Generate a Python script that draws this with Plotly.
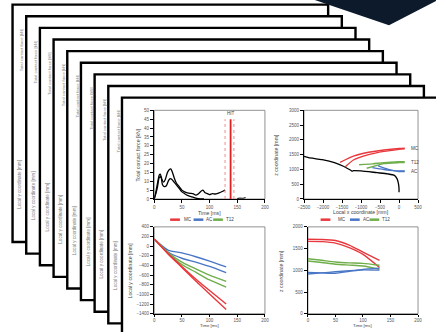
import plotly.graph_objects as go

W, H = 436, 332
def PX(x): return x / W
def PY(y): return 1 - y / H

# ---------------- data ----------------
# panel 1: total contact force vs time
force_t_a = [0, 3, 6, 9, 11, 14, 17, 20, 24, 27, 30, 33, 36, 40, 45, 50, 55, 60, 65, 70, 75, 80, 85, 88, 92, 96, 100, 105, 110, 115, 120, 125, 128]
force_v_a = [0, 4, 9, 13.5, 14, 11, 9.5, 11, 15, 16.5, 17, 15, 12, 9, 7, 5, 4, 3.5, 3.2, 3, 2.2, 3, 4.5, 5, 3.5, 3, 2.5, 3, 2.8, 3.2, 3.8, 4.5, 5]
force_t_b = [0, 3, 6, 9, 12, 15, 18, 22, 26, 29, 32, 36, 40, 45, 50, 55, 60, 65, 70, 75, 80, 85, 90]
force_v_b = [0, 3, 7, 12, 12.5, 8, 7, 7.5, 10.5, 11.5, 11, 9.5, 8, 6, 4, 3, 2, 1.5, 1, 0.5, 0.2, 0, 0]
force_t_c = [150, 155, 160, 165]
force_v_c = [0.3, 0.5, 0.4, 0.8]
hit_time, hit_lo, hit_hi, hit_top = 138, 128, 144, 45

# panel 2: z coordinate vs local x coordinate
path_x = [-2500, -2380, -2020, -1700, -1450, -1280, -1230, -1200, -1000, -580, -300, -120, -50, -15, 0, 0]
path_z = [1440, 1400, 1330, 1230, 1100, 980, 940, 960, 950, 890, 850, 800, 680, 520, 350, 230]
mc_x1 = [-1550, -1200, -800, -400, 0, 150]
mc_z1 = [1240, 1450, 1580, 1660, 1710, 1720]
mc_x2 = [-1420, -1200, -800, -400, 0, 150]
mc_z2 = [1080, 1320, 1500, 1610, 1680, 1700]
t12_x1 = [-1050, -700, -400, 0, 150]
t12_z1 = [1160, 1190, 1230, 1260, 1265]
t12_x2 = [-850, -600, -400, 0, 150]
t12_z2 = [1040, 1130, 1200, 1230, 1235]
ac_x1 = [-700, -400, -150, 0, 150]
ac_z1 = [1060, 1000, 960, 950, 950]
ac_x2 = [-550, -300, -100, 0, 150]
ac_z2 = [1120, 1010, 950, 930, 930]
label_names = ["MC", "T12", "AC"]
label_z = [1720, 1240, 940]
label_x = 250

# panel 3: local y coordinate vs time
time3 = [0, 25, 50, 75, 100, 130]
mc_y1 = [150, -150, -420, -680, -920, -1200]
mc_y2 = [150, -160, -440, -720, -990, -1310]
ac_y1 = [150, -80, -140, -220, -310, -430]
ac_y2 = [150, -120, -250, -330, -420, -550]
t12_y1 = [150, -130, -330, -470, -600, -730]
t12_y2 = [150, -140, -380, -540, -700, -850]

# panel 4: z coordinate vs time
time4 = [0, 25, 50, 75, 100, 130]
mc_zt1 = [1715, 1710, 1685, 1580, 1420, 1230]
mc_zt2 = [1665, 1660, 1625, 1520, 1365, 1065]
t12_zt1 = [1265, 1230, 1190, 1170, 1160, 1115]
t12_zt2 = [1215, 1180, 1140, 1120, 1100, 1025]
ac_zt1 = [950, 940, 930, 975, 1020, 1050]
ac_zt2 = [915, 940, 965, 990, 1010, 1005]

RED, BLUE, GREEN = "#e8383d", "#4a76c6", "#6fae4a"

fig = go.Figure()

def line(x, y, color, xa, ya, width=1.4):
    fig.add_trace(go.Scatter(x=x, y=y, mode="lines", line=dict(color=color, width=width, shape="spline", smoothing=0.6),
                             xaxis=xa, yaxis=ya, showlegend=False, hoverinfo="skip"))

# panel 1
line(force_t_a, force_v_a, "black", "x", "y", 1.3)
line(force_t_b, force_v_b, "black", "x", "y", 1.3)
line(force_t_c, force_v_c, "black", "x", "y", 1.0)
for xv, c, d, w in [(hit_lo, "#f28b8b", "dot", 1), (hit_hi, "#f28b8b", "dot", 1), (hit_time, "#e02020", "solid", 1.8)]:
    fig.add_trace(go.Scatter(x=[xv, xv], y=[0, hit_top], mode="lines", line=dict(color=c, width=w, dash=d),
                             xaxis="x", yaxis="y", showlegend=False, hoverinfo="skip"))

# panel 2
line(path_x, path_z, "black", "x2", "y2", 1.3)
line(mc_x1, mc_z1, RED, "x2", "y2")
line(mc_x2, mc_z2, RED, "x2", "y2")
line(t12_x1, t12_z1, GREEN, "x2", "y2")
line(t12_x2, t12_z2, GREEN, "x2", "y2")
line(ac_x1, ac_z1, BLUE, "x2", "y2")
line(ac_x2, ac_z2, BLUE, "x2", "y2")

# panel 3
line(time3, ac_y1, BLUE, "x3", "y3")
line(time3, ac_y2, BLUE, "x3", "y3")
line(time3, t12_y1, GREEN, "x3", "y3")
line(time3, t12_y2, GREEN, "x3", "y3")
line(time3, mc_y1, RED, "x3", "y3")
line(time3, mc_y2, RED, "x3", "y3")

# panel 4
line(time4, mc_zt1, RED, "x4", "y4")
line(time4, mc_zt2, RED, "x4", "y4")
line(time4, t12_zt1, GREEN, "x4", "y4")
line(time4, t12_zt2, GREEN, "x4", "y4")
line(time4, ac_zt1, BLUE, "x4", "y4")
line(time4, ac_zt2, BLUE, "x4", "y4")

tickfont = dict(family="Liberation Sans, Arial, sans-serif", size=4.5, color="#555")
def ax(dom, rng, dtick, anchor, tl=3):
    return dict(domain=dom, range=rng, dtick=dtick, tick0=rng[0], anchor=anchor, showline=True, linecolor="black",
                linewidth=1.2, ticks="outside", ticklen=tl, tickwidth=1, tickcolor="black", showgrid=False,
                zeroline=False, tickfont=tickfont, fixedrange=True)

d1x = [PX(151.7), PX(265)]
d2x = [PX(305), PX(421.7)]
d4x = [PX(309), PX(421.7)]
dTop = [PY(200), PY(110)]
dBot = [PY(316.5), PY(228.3)]

layout = dict(
    width=W, height=H, margin=dict(l=0, r=0, t=0, b=0),
    paper_bgcolor="white", plot_bgcolor="rgba(0,0,0,0)", showlegend=False,
    xaxis=ax(d1x, [0, 200], 50, "y"), yaxis=ax(dTop, [0, 50], 5, "x"),
    xaxis2=ax(d2x, [-2500, 500], 500, "y2"), yaxis2=ax(dTop, [0, 3000], 500, "x2"),
    xaxis3=ax(d1x, [0, 200], 50, "y3", 2), yaxis3=ax(dBot, [-1400, 400], 200, "x3"),
    xaxis4=ax(d4x, [0, 200], 50, "y4", 2), yaxis4=ax(dBot, [0, 2000], 500, "x4"),
)
fig.update_layout(**layout)

shapes = []
# stacked pages (back to front)
for i in range(9):
    x0 = 6.7 + 14 * i
    y0 = 2.7 + 11.8 * i
    shapes.append(dict(type="rect", xref="paper", yref="paper", x0=PX(x0), x1=PX(x0 + 323), y0=PY(y0 + 241), y1=PY(y0),
                       fillcolor="white", line=dict(color="black", width=2.4), layer="below"))
# plot boxes
for xs, ys in [("x", "y"), ("x2", "y2"), ("x3", "y3"), ("x4", "y4")]:
    shapes.append(dict(type="rect", xref=xs + " domain", yref=ys + " domain", x0=0, x1=1, y0=0, y1=1,
                       line=dict(color="#777", width=0.8), layer="below"))
# legends (manual)
for (lx, col) in [(168, RED), (192, BLUE), (212, GREEN), (322, RED), (352, BLUE), (372, GREEN)]:
    shapes.append(dict(type="line", xref="paper", yref="paper", x0=PX(lx), x1=PX(lx + 10), y0=PY(221), y1=PY(221),
                       line=dict(color=col, width=2.5)))
# dark corner shape
shapes.append(dict(type="path", xref="paper", yref="paper",
                   path=f"M {PX(316)},{PY(-2)} L {PX(392)},{PY(23.5)} L {PX(442)},{PY(-2)} Z",
                   fillcolor="#0c1a2b", line=dict(width=0)))
fig.update_layout(shapes=shapes)

F = "Liberation Sans, Arial, sans-serif"
ann = []
def txt(x, y, s, size=5, color="#444", angle=0, xanchor="center", yanchor="middle", pad=1):
    ann.append(dict(x=PX(x), y=PY(y), xref="paper", yref="paper", text=s, showarrow=False, textangle=angle,
                    font=dict(family=F, size=size, color=color), xanchor=xanchor, yanchor=yanchor, borderpad=pad))

# text on the back pages
for i in range(8):
    x0 = 6.7 + 14 * i
    y0 = 2.7 + 11.8 * i
    txt(x0 + 10, y0 + 46, "Total contact force [kN]", 4.2, "#888", -90)
    txt(x0 + 7.5, y0 + 182, "Local y coordinate [mm]", 4.6, "#777", -90)

# front page axis titles
txt(135, 155, "Total contact force [kN]", 5.2, "#444", -90)
txt(276.5, 155, "z coordinate [mm]", 5.2, "#444", -90)
txt(126.5, 273, "Local y coordinate [mm]", 5.2, "#444", -90)
txt(281.5, 273, "z coordinate [mm]", 5.2, "#444", -90)
txt(208, 214, "Time [ms]", 5.2)
txt(363, 213, "Local x coordinate [mm]", 5.2)
txt(208, 332, "Time [ms]", 4.3, yanchor="bottom", pad=0)
txt(365, 332, "Time [ms]", 4.3, yanchor="bottom", pad=0)
# legend labels
for (tx, name) in [(180, "MC"), (203, "AC"), (223, "T12"), (338, "MC"), (363, "AC"), (383, "T12")]:
    txt(tx, 221, name, 4.6, "#444", 0, "left")

fig.update_layout(annotations=ann)
fig.add_annotation(x=hit_time, y=48, xref="x", yref="y", text="HIT", showarrow=False,
                   font=dict(family=F, size=4.6, color="#444"))
for nm, zv in zip(label_names, label_z):
    fig.add_annotation(x=label_x, y=zv, xref="x2", yref="y2", text=nm, showarrow=False, xanchor="left",
                       font=dict(family=F, size=4.6, color="#444"))

fig.write_html("out.html", config={"displayModeBar": False, "staticPlot": True},
               post_script="document.body.style.margin='0';document.body.style.overflow='hidden';")
